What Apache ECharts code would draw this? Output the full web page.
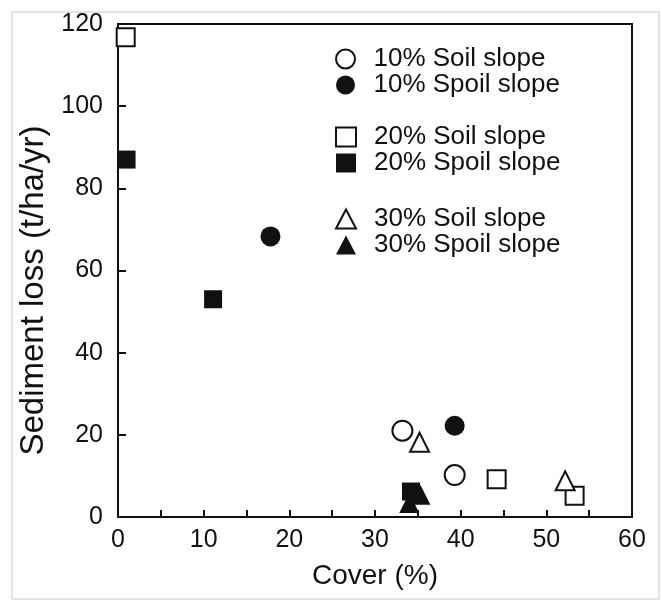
<!DOCTYPE html>
<html>
<head>
<meta charset="utf-8">
<script src="https://cdn.jsdelivr.net/npm/echarts@6/dist/echarts.min.js"></script>
<style>
  html, body { margin: 0; padding: 0; background: #fff; }
  #chart { width: 662px; height: 603px; }
</style>
</head>
<body>
<div id="chart"></div>
<script>
// cover (%), sediment loss (t/ha/yr)
const soil10 = [[33.2, 21], [39.3, 10.2]]
const spoil10 = [[17.8, 68.3], [39.3, 22.2]]
const soil20 = [[0.9, 116.8], [44.2, 9.2], [53.3, 5.2]]
const spoil20 = [[1.0, 87], [11.1, 53], [34.2, 6.2]]
const soil30 = [[35.2, 18.2], [52.2, 8.8]]
const spoil30 = [[35.3, 5.4], [34.0, 3.4]]

const seriesNames = ['10% Soil slope', '10% Spoil slope', '20% Soil slope', '20% Spoil slope', '30% Soil slope', '30% Spoil slope']
const seriesData = [soil10, spoil10, soil20, spoil20, soil30, spoil30]
const symbols = ['circle', 'circle', 'rect', 'rect', 'triangle', 'triangle']
const symbolSizes = [20, 20, 18, 18, 19, 20]

const font = 'Liberation Sans, Arial, Helvetica, sans-serif'
const myChart = echarts.init(document.getElementById('chart'))

const option = {
  backgroundColor: '#fff',
  animation: false,
  graphic: [{
    type: 'rect',
    shape: { x: 12, y: 12, width: 647, height: 587 },
    style: { fill: 'none', stroke: '#c8c8c8', lineWidth: 1 },
    silent: true
  }],
  grid: {
    left: 118,
    top: 24,
    right: 30,
    bottom: 86,
    show: true,
    borderColor: '#111',
    borderWidth: 2,
    containLabel: false
  },
  legend: [0, 1, 2].map(function(g) {
    return {
      data: seriesNames.slice(g * 2, g * 2 + 2),
      orient: 'vertical',
      left: 335,
      top: [46, 124, 206][g],
      padding: 0,
      itemWidth: 20,
      itemHeight: 19,
      itemGap: 0,
      textStyle: { fontFamily: font, fontSize: 26, lineHeight: 26, color: '#111', padding: [0, 0, 0, 13] },
      selectedMode: false
    }
  }),
  xAxis: {
    type: 'value',
    min: 0,
    max: 60,
    interval: 10,
    name: 'Cover (%)',
    nameLocation: 'middle',
    nameGap: 45,
    nameTextStyle: { fontFamily: font, fontSize: 28, color: '#111' },
    axisLine: { onZero: false, lineStyle: { color: '#111', width: 2 } },
    axisTick: { show: true, inside: true, length: 7, lineStyle: { color: '#111', width: 2 } },
    minorTick: { show: true, splitNumber: 2, length: 7, lineStyle: { color: '#111', width: 2 } },
    axisLabel: { fontFamily: font, fontSize: 25, color: '#111', margin: 11 },
    splitLine: { show: false }
  },
  yAxis: {
    type: 'value',
    min: 0,
    max: 120,
    interval: 20,
    name: 'Sediment loss (t/ha/yr)',
    nameLocation: 'middle',
    nameGap: 66,
    nameTextStyle: { fontFamily: font, fontSize: 33, color: '#111', padding: [0, 40, 0, 0] },
    axisLine: { onZero: false, lineStyle: { color: '#111', width: 2 } },
    axisTick: { show: true, inside: true, length: 8, lineStyle: { color: '#111', width: 2 } },
    axisLabel: { fontFamily: font, fontSize: 25, color: '#111', margin: 15 },
    splitLine: { show: false }
  },
  series: seriesNames.map(function(name, i) {
    const filled = i % 2 === 1
    return {
      name: name,
      type: 'scatter',
      data: seriesData[i],
      symbol: symbols[i],
      symbolSize: symbolSizes[i],
      itemStyle: {
        color: filled ? '#111' : '#fff',
        borderColor: '#111',
        borderWidth: filled ? 0 : 2,
        opacity: 1
      }
    }
  })
}

myChart.setOption(option)
</script>
</body>
</html>
